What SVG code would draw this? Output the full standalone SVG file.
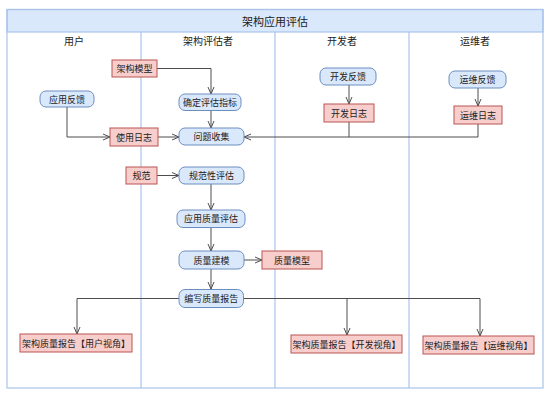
<svg xmlns="http://www.w3.org/2000/svg" width="554" height="403" viewBox="0 0 554 403">
<style>
text{font-family:"Noto Sans CJK SC","Noto Sans",sans-serif;fill:#222;text-anchor:middle;dominant-baseline:central}
.t{font-size:11px}
.l{font-size:10px}
.n{font-size:9px}
.b{fill:#dae8fc;stroke:#6c8ebf;stroke-width:1}
.r{fill:#f8cecc;stroke:#b85450;stroke-width:1}
.fr{fill:none;stroke:#a9c4eb;stroke-width:1.2}
.c{fill:none;stroke:#4d4d4d;stroke-width:1;marker-end:url(#a)}
.c2{fill:none;stroke:#4d4d4d;stroke-width:1}
</style>
<defs>
<marker id="a" markerWidth="8" markerHeight="8" refX="7" refY="4" orient="auto" markerUnits="userSpaceOnUse">
<path d="M0,1 L7,4 L0,7" fill="none" stroke="#4d4d4d" stroke-width="1"/>
</marker>
</defs>
<rect width="554" height="403" fill="#fff"/>
<g id="pool">
<rect x="7" y="9.5" width="536" height="22.5" fill="#dae8fc" stroke="#a9c4eb" stroke-width="1.2"/>
<rect x="7" y="9.5" width="536" height="378.5" class="fr"/>
<line x1="141" y1="32" x2="141" y2="388" class="fr"/>
<line x1="275" y1="32" x2="275" y2="388" class="fr"/>
<line x1="409" y1="32" x2="409" y2="388" class="fr"/>
<text class="t" x="275" y="21">架构应用评估</text>
<text class="l" x="74" y="40">用户</text>
<text class="l" x="208" y="40">架构评估者</text>
<text class="l" x="342" y="40">开发者</text>
<text class="l" x="475" y="40">运维者</text>
</g>
<g id="connectors">
<path class="c" d="M157,68.5 H211 V94"/>
<path class="c" d="M211,110.5 V128"/>
<path class="c" d="M67,107 V137 H110"/>
<path class="c" d="M158,137 H179"/>
<path class="c" d="M478,124 V137 H244"/>
<path class="c2" d="M349,122 V137"/>
<path class="c" d="M349,85 V104"/>
<path class="c" d="M478,88 V106"/>
<path class="c" d="M157,175.5 H179"/>
<path class="c" d="M211,184 V210"/>
<path class="c" d="M211,227.5 V251"/>
<path class="c" d="M244,260 H262"/>
<path class="c" d="M211,269 V289"/>
<path class="c" d="M179,298.5 H77 V334"/>
<path class="c" d="M243.5,298.5 H480 V336"/>
<path class="c" d="M347,298.5 V335"/>
</g>
<g id="n_model"><rect class="r" x="112" y="60" width="45" height="17"/><text class="n" x="134.5" y="68.5">架构模型</text></g>
<g id="n_userfb"><rect class="b" x="40" y="91" width="54" height="16" rx="6"/><text class="n" x="67" y="99">应用反馈</text></g>
<g id="n_metric"><rect class="b" x="179" y="94" width="62" height="16.5" rx="6"/><text class="n" x="210" y="102.3">确定评估指标</text></g>
<g id="n_uselog"><rect class="r" x="110" y="128" width="48" height="18"/><text class="n" x="134" y="137">使用日志</text></g>
<g id="n_collect"><rect class="b" x="179" y="128" width="65" height="17" rx="6"/><text class="n" x="211.5" y="136.5">问题收集</text></g>
<g id="n_spec"><rect class="r" x="126" y="167" width="31" height="17"/><text class="n" x="141.5" y="175.5">规范</text></g>
<g id="n_speceval"><rect class="b" x="179" y="167" width="65" height="17" rx="6"/><text class="n" x="211.5" y="175.5">规范性评估</text></g>
<g id="n_quality"><rect class="b" x="177" y="210" width="68" height="17.5" rx="6"/><text class="n" x="211" y="218.7">应用质量评估</text></g>
<g id="n_modeling"><rect class="b" x="179" y="251" width="65" height="18" rx="6"/><text class="n" x="211.5" y="260">质量建模</text></g>
<g id="n_qmodel"><rect class="r" x="262" y="251" width="60" height="18"/><text class="n" x="292" y="260">质量模型</text></g>
<g id="n_report"><rect class="b" x="179" y="289.5" width="64.5" height="18" rx="6"/><text class="n" x="211.3" y="298.5">编写质量报告</text></g>
<g id="n_rep_user"><rect class="r" x="20" y="334" width="112" height="18"/><text class="n" x="76" y="343">架构质量报告【用户视角】</text></g>
<g id="n_devfb"><rect class="b" x="320" y="68" width="56" height="17" rx="6"/><text class="n" x="348" y="76.5">开发反馈</text></g>
<g id="n_devlog"><rect class="r" x="324" y="104" width="50" height="18"/><text class="n" x="349" y="113">开发日志</text></g>
<g id="n_rep_dev"><rect class="r" x="291" y="335" width="111" height="18"/><text class="n" x="346.5" y="344">架构质量报告【开发视角】</text></g>
<g id="n_opsfb"><rect class="b" x="449" y="71" width="57" height="17" rx="6"/><text class="n" x="477.5" y="79.5">运维反馈</text></g>
<g id="n_opslog"><rect class="r" x="454" y="106" width="48" height="18"/><text class="n" x="478" y="115">运维日志</text></g>
<g id="n_rep_ops"><rect class="r" x="423" y="336" width="111" height="18"/><text class="n" x="478.5" y="345">架构质量报告【运维视角】</text></g>
</svg>
